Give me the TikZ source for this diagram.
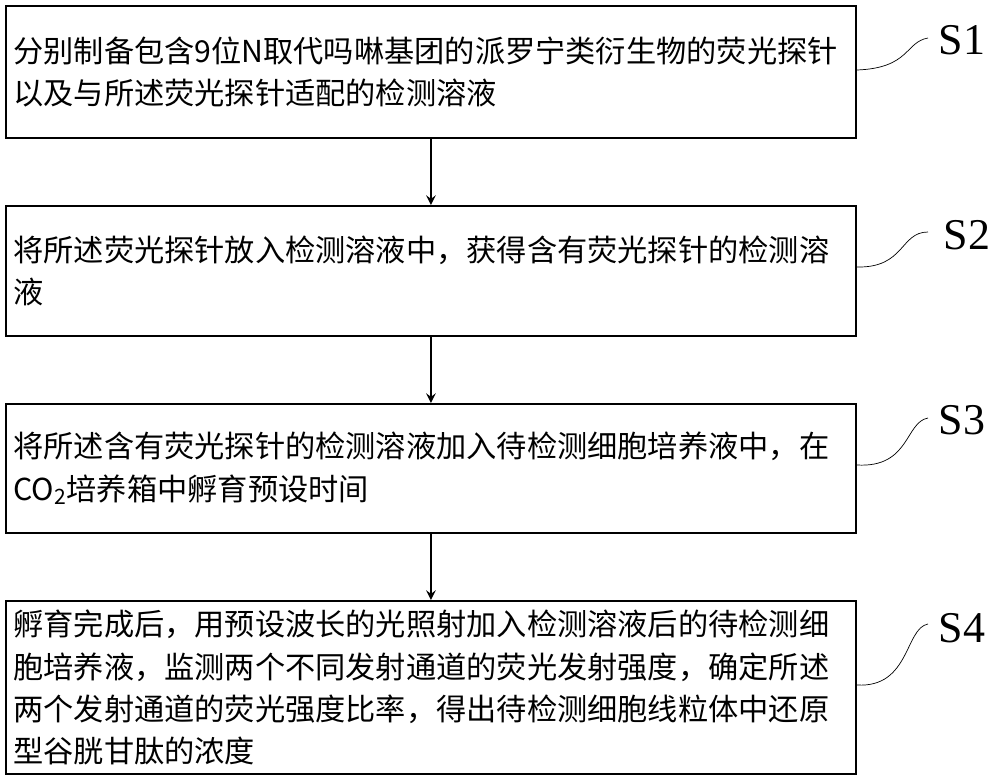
\documentclass[tikz,border=0pt]{standalone}
\usepackage{fontspec}
\setmainfont{Noto Sans CJK SC}
\newfontfamily\labelfont{Liberation Serif}
\usetikzlibrary{calc}
\tikzstyle{stepbox}=[rectangle,draw=black,line width=1.2pt,minimum width=17cm,anchor=north west,inner sep=0pt]
\tikzstyle{txt}=[align=left,anchor=west,inner sep=0pt,font=\fontsize{17.2}{24}\selectfont]
\tikzstyle{lbl}=[font=\labelfont\fontsize{25}{25}\selectfont,inner sep=0pt]
\tikzstyle{flow}=[->,>=stealth,line width=1.4pt]
\begin{document}
\begin{tikzpicture}[x=0.02cm,y=-0.02cm]
	\useasboundingbox (0,0) rectangle (1000,779);

	\node[stepbox, minimum height=2.64cm](s1) at (5,5){};
	\node[stepbox, minimum height=2.6cm](s2) at (5,205){};
	\node[stepbox, minimum height=2.58cm](s3) at (5,403){};
	\node[stepbox, minimum height=3.46cm](s4) at (5,600){};

	\node[txt] (t1) at ($(s1.west)+(8,0)$) {分别制备包含9位N取代吗啉基团的派罗宁类衍生物的荧光探针\\以及与所述荧光探针适配的检测溶液};
	\node[txt] (t2) at ($(s2.west)+(8,0)$) {将所述荧光探针放入检测溶液中，获得含有荧光探针的检测溶\\液};
	\node[txt] (t3) at ($(s3.west)+(8,0)$) {将所述含有荧光探针的检测溶液加入待检测细胞培养液中，在\\CO\textsubscript{2}培养箱中孵育预设时间};
	\node[txt] (t4) at ($(s4.west)+(8,0)$) {孵育完成后，用预设波长的光照射加入检测溶液后的待检测细\\胞培养液，监测两个不同发射通道的荧光发射强度，确定所述\\两个发射通道的荧光强度比率，得出待检测细胞线粒体中还原\\型谷胱甘肽的浓度};

	\draw[flow] (s1.south) -- (s2.north);
	\draw[flow] (s2.south) -- (s3.north);
	\draw[flow] (s3.south) -- (s4.north);

	\node[lbl] (l1) at (962,40) {S1};
	\node[lbl] (l2) at (967,235) {S2};
	\node[lbl] (l3) at (962,420) {S3};
	\node[lbl] (l4) at (962,628) {S4};

	\coordinate (c1) at ($(s1.north east)+(0,65)$);
	\coordinate (c2) at ($(s2.north east)+(0,62)$);
	\coordinate (c3) at ($(s3.north east)+(0,62)$);
	\coordinate (c4) at ($(s4.north east)+(0,85)$);
	\draw (c1) .. controls (910,68) and (905,42) .. (928,38);
	\draw (c2) .. controls (905,268) and (900,232) .. (928,232);
	\draw (c3) .. controls (910,468) and (905,422) .. (928,418);
	\draw (c4) .. controls (910,688) and (905,628) .. (928,624);
\end{tikzpicture}
\end{document}
